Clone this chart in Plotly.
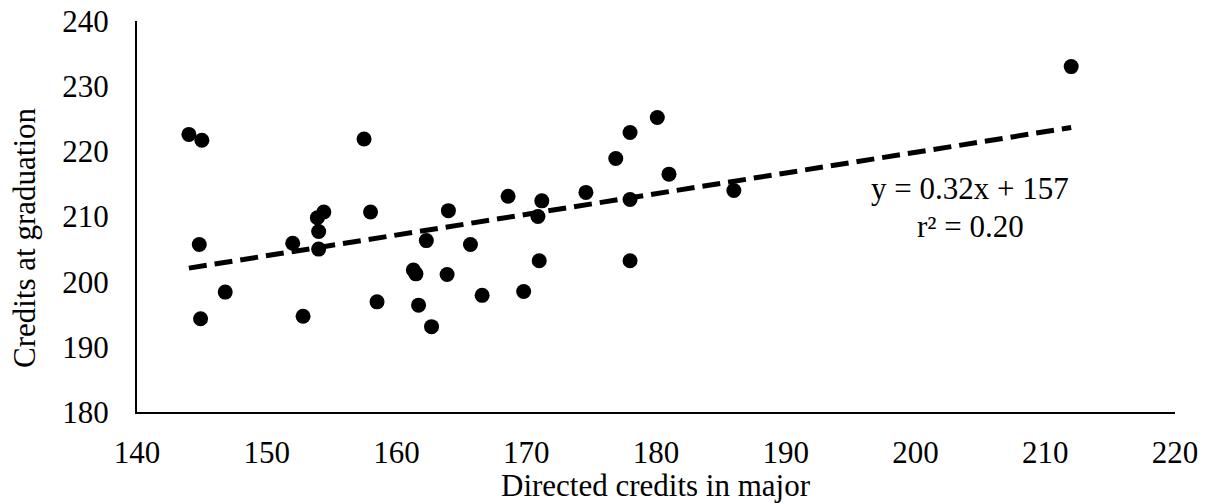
import numpy as np
import plotly.graph_objects as go

# Directed credits in major (x) and credits at graduation (y)
directed_credits = [144.0, 145.0, 144.8, 144.9, 146.8, 152.0, 152.8, 153.9, 154.4, 154.0,
                    154.0, 157.5, 158.0, 158.5, 161.3, 161.5, 161.7, 162.3, 162.7, 163.9,
                    164.0, 165.7, 166.6, 168.6, 169.8, 171.2, 170.9, 171.0, 174.6, 176.9,
                    178.0, 178.0, 178.0, 180.1, 181.0, 186.0, 212.0]
graduation_credits = [222.6, 221.7, 205.7, 194.3, 198.4, 205.9, 194.7, 209.8, 210.7, 207.7,
                      205.0, 221.9, 210.7, 196.9, 201.8, 201.2, 196.4, 206.3, 193.1, 201.1,
                      210.9, 205.7, 197.9, 213.1, 198.5, 212.4, 210.0, 203.2, 213.7, 218.9,
                      222.9, 212.6, 203.2, 225.2, 216.5, 214.0, 233.0]

x_ticks = [140, 150, 160, 170, 180, 190, 200, 210, 220]
y_ticks = [180, 190, 200, 210, 220, 230, 240]
eq_label = "y = 0.32x + 157"
r2_label = "r² = 0.20"
x_title = "Directed credits in major"
y_title = "Credits at graduation"

xs = np.array(directed_credits)
ys = np.array(graduation_credits)
slope, intercept = np.polyfit(xs, ys, 1)
trend_x = [xs.min(), xs.max()]
trend_y = [slope * v + intercept for v in trend_x]

FONT = "Liberation Serif, Times New Roman, serif"
FS = 31

W, H = 1208, 503
plot_l, plot_r = 137, 1175
plot_t, plot_b = 21, 412

fig = go.Figure()
fig.add_trace(go.Scatter(x=trend_x, y=trend_y, mode="lines",
                         line=dict(color="black", width=5, dash="18px,8px"),
                         hoverinfo="skip", showlegend=False))
fig.add_trace(go.Scatter(x=directed_credits, y=graduation_credits, mode="markers",
                         marker=dict(color="black", size=15), showlegend=False))


def px_to_paper(px, py):
    return (px - plot_l) / (plot_r - plot_l), (plot_b - py) / (plot_b - plot_t)


def ann(text, px, py, angle=0):
    x, y = px_to_paper(px, py)
    return dict(text=text, x=x, y=y, xref="paper", yref="paper", showarrow=False,
                textangle=angle, font=dict(size=FS), xanchor="center", yanchor="middle",
                borderpad=0)


fig.update_layout(
    width=W, height=H,
    margin=dict(l=plot_l, r=W - plot_r, t=plot_t, b=H - plot_b),
    paper_bgcolor="white", plot_bgcolor="white",
    font=dict(family=FONT, size=FS, color="black"),
    xaxis=dict(range=[140, 220], tickvals=x_ticks, showgrid=False, zeroline=False,
               showline=True, linecolor="black", linewidth=2, ticks="",
               ticklabelstandoff=12, ticklabeloverflow="allow", automargin=False),
    yaxis=dict(range=[180, 240], tickvals=y_ticks, showgrid=False, zeroline=False,
               showline=True, linecolor="black", linewidth=2, ticks="",
               ticklabelstandoff=20, ticklabeloverflow="allow", automargin=False),
    annotations=[
        ann(y_title, 24, 238, -90),
        ann(x_title, (plot_l + plot_r) / 2, 485),
        ann(eq_label, 970, 188.5),
        ann(r2_label, 970, 226),
    ],
)

fig.write_html("out.html",
               config={"displayModeBar": False},
               post_script="document.body.style.margin='0';document.body.style.padding='0';")
